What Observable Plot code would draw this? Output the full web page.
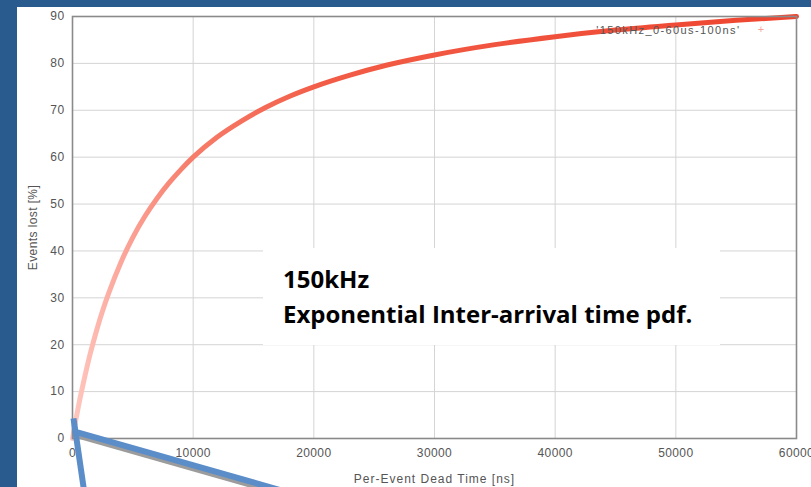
<!DOCTYPE html>
<html>
<head>
<meta charset="utf-8">
<script src="https://cdn.jsdelivr.net/npm/d3@7"></script>
<script src="https://cdn.jsdelivr.net/npm/@observablehq/plot@0.6"></script>
<style>
  html, body { margin: 0; padding: 0; }
  body { width: 811px; height: 487px; overflow: hidden; background: #2a5b8e; position: relative; }
  #sheet { position: absolute; left: 17px; top: 7px; width: 794px; height: 480px; background: #fff; }
  #sheet svg { overflow: visible; }
  #sheet svg text { letter-spacing: 0.4px; }
  #note { position: absolute; left: 246px; top: 241px; width: 457px; height: 97px; background: #fff;
          box-sizing: border-box; padding: 13px 0 0 20px; font-family: "Open Sans", Lato, sans-serif;
          font-weight: bold; font-size: 24px; line-height: 35px; color: #000; white-space: nowrap; }
</style>
</head>
<body>
<div id="sheet"></div>
<script>
// Curve: per-event dead time (ns) vs events lost (%)
const deadTimeNs = [0, 250, 500, 750, 1000, 1500, 2000, 2500, 3000, 4000, 5000, 6000, 7000, 8000, 9000,
  10000, 12000, 14000, 16000, 18000, 20000, 23000, 26000, 30000, 35000, 40000, 45000, 50000, 55000, 60000];
const eventsLostPct = [0, 3.6, 7.0, 10.1, 13.0, 18.4, 23.1, 27.3, 31.0, 37.5, 42.9, 47.4, 51.2, 54.5, 57.4,
  60.0, 64.3, 67.7, 70.6, 73.0, 75.0, 77.5, 79.6, 81.8, 84.0, 85.7, 87.1, 88.2, 89.2, 90.0];

const xTicks = [0, 10000, 20000, 30000, 40000, 50000, 60000];
const yTicks = [0, 10, 20, 30, 40, 50, 60, 70, 80, 90];
const xLabel = "Per-Event Dead Time [ns]";
const yLabel = "Events lost [%]";
const seriesName = "'150kHz_0-60us-100ns'";
const noteLines = ["150kHz", "Exponential Inter-arrival time pdf."];

// slide callout lines (in chart units, they run off the chart)
const calloutFromX = [83, 414];
const calloutFromY = [4.3, 1.3];
const calloutToX = [990, 20200];
const calloutToY = [-11.7, -13.2];

const curve = deadTimeNs.map((x, i) => ({x, y: eventsLostPct[i]}));
const callouts = calloutFromX.map((x1, i) => ({x1, y1: calloutFromY[i], x2: calloutToX[i], y2: calloutToY[i], shadow: i === 1}));

const chart = Plot.plot({
  width: 794,
  height: 480,
  marginLeft: 55,
  marginTop: 9,
  marginRight: 15,
  marginBottom: 49,
  style: {fontFamily: "'Liberation Sans', Arial, sans-serif", fontSize: "12px", color: "#555", background: "transparent"},
  x: {domain: [0, 60000], ticks: xTicks, tickFormat: d => String(d), label: xLabel},
  y: {domain: [0, 90], ticks: yTicks, label: yLabel},
  marks: [
    Plot.gridX(xTicks, {stroke: "#d4d4d4", strokeOpacity: 1}),
    Plot.gridY(yTicks, {stroke: "#d4d4d4", strokeOpacity: 1}),
    Plot.axisX({ticks: xTicks, tickFormat: d => String(d), tickSize: 0, tickPadding: 10,
      label: xLabel, labelAnchor: "center", labelArrow: "none", labelOffset: 44, fontSize: 12, fill: "#555"}),
    Plot.axisY({ticks: yTicks, tickSize: 0, tickPadding: 8,
      label: yLabel, labelAnchor: "center", labelArrow: "none", labelOffset: 44, fontSize: 12, fill: "#555"}),
    Plot.line(curve, {x: "x", y: "y", curve: "monotone-x", stroke: "url(#curveGrad)", strokeWidth: 5}),
    Plot.frame({stroke: "#8a8a8a", strokeWidth: 1.6}),
    Plot.text([seriesName], {frameAnchor: "top-right", dx: -56, dy: 10, text: d => d, fontSize: 11, fill: "#555", textAnchor: "end"}),
    Plot.text(["+"], {frameAnchor: "top-right", dx: -31, dy: 9, text: d => d, fontSize: 11, fill: "#f6a49a"}),
    Plot.link(callouts.filter(d => d.shadow), {x1: "x1", y1: "y1", x2: "x2", y2: "y2", stroke: "#9c9c9c", strokeWidth: 6, dy: 3, clip: false}),
    Plot.link(callouts, {x1: "x1", y1: "y1", x2: "x2", y2: "y2", stroke: "#5b8dc9", strokeWidth: 6, clip: false})
  ]
});

// colour gradient along the curve (lighter where markers are sparse)
const defs = d3.select(chart).insert("defs", ":first-child");
const grad = defs.append("linearGradient").attr("id", "curveGrad").attr("x1", "0").attr("x2", "1").attr("y1", "0").attr("y2", "0");
[[0, "#ffc8c0"], [0.06, "#fcaa9f"], [0.16, "#f77d6b"], [0.35, "#f25c46"], [1, "#ee4530"]]
  .forEach(([o, c]) => grad.append("stop").attr("offset", o).attr("stop-color", c));

// wider letter spacing for the stretched axis titles and legend
d3.select(chart).selectAll("[aria-label='x-axis label'] text").style("letter-spacing", "1px");
d3.select(chart).selectAll("[aria-label='text'] text").style("letter-spacing", "1.4px");

const sheet = document.getElementById("sheet");
sheet.appendChild(chart);
const note = document.createElement("div");
note.id = "note";
note.innerHTML = noteLines.map(t => `<div>${t}</div>`).join("");
sheet.appendChild(note);
</script>
</body>
</html>
